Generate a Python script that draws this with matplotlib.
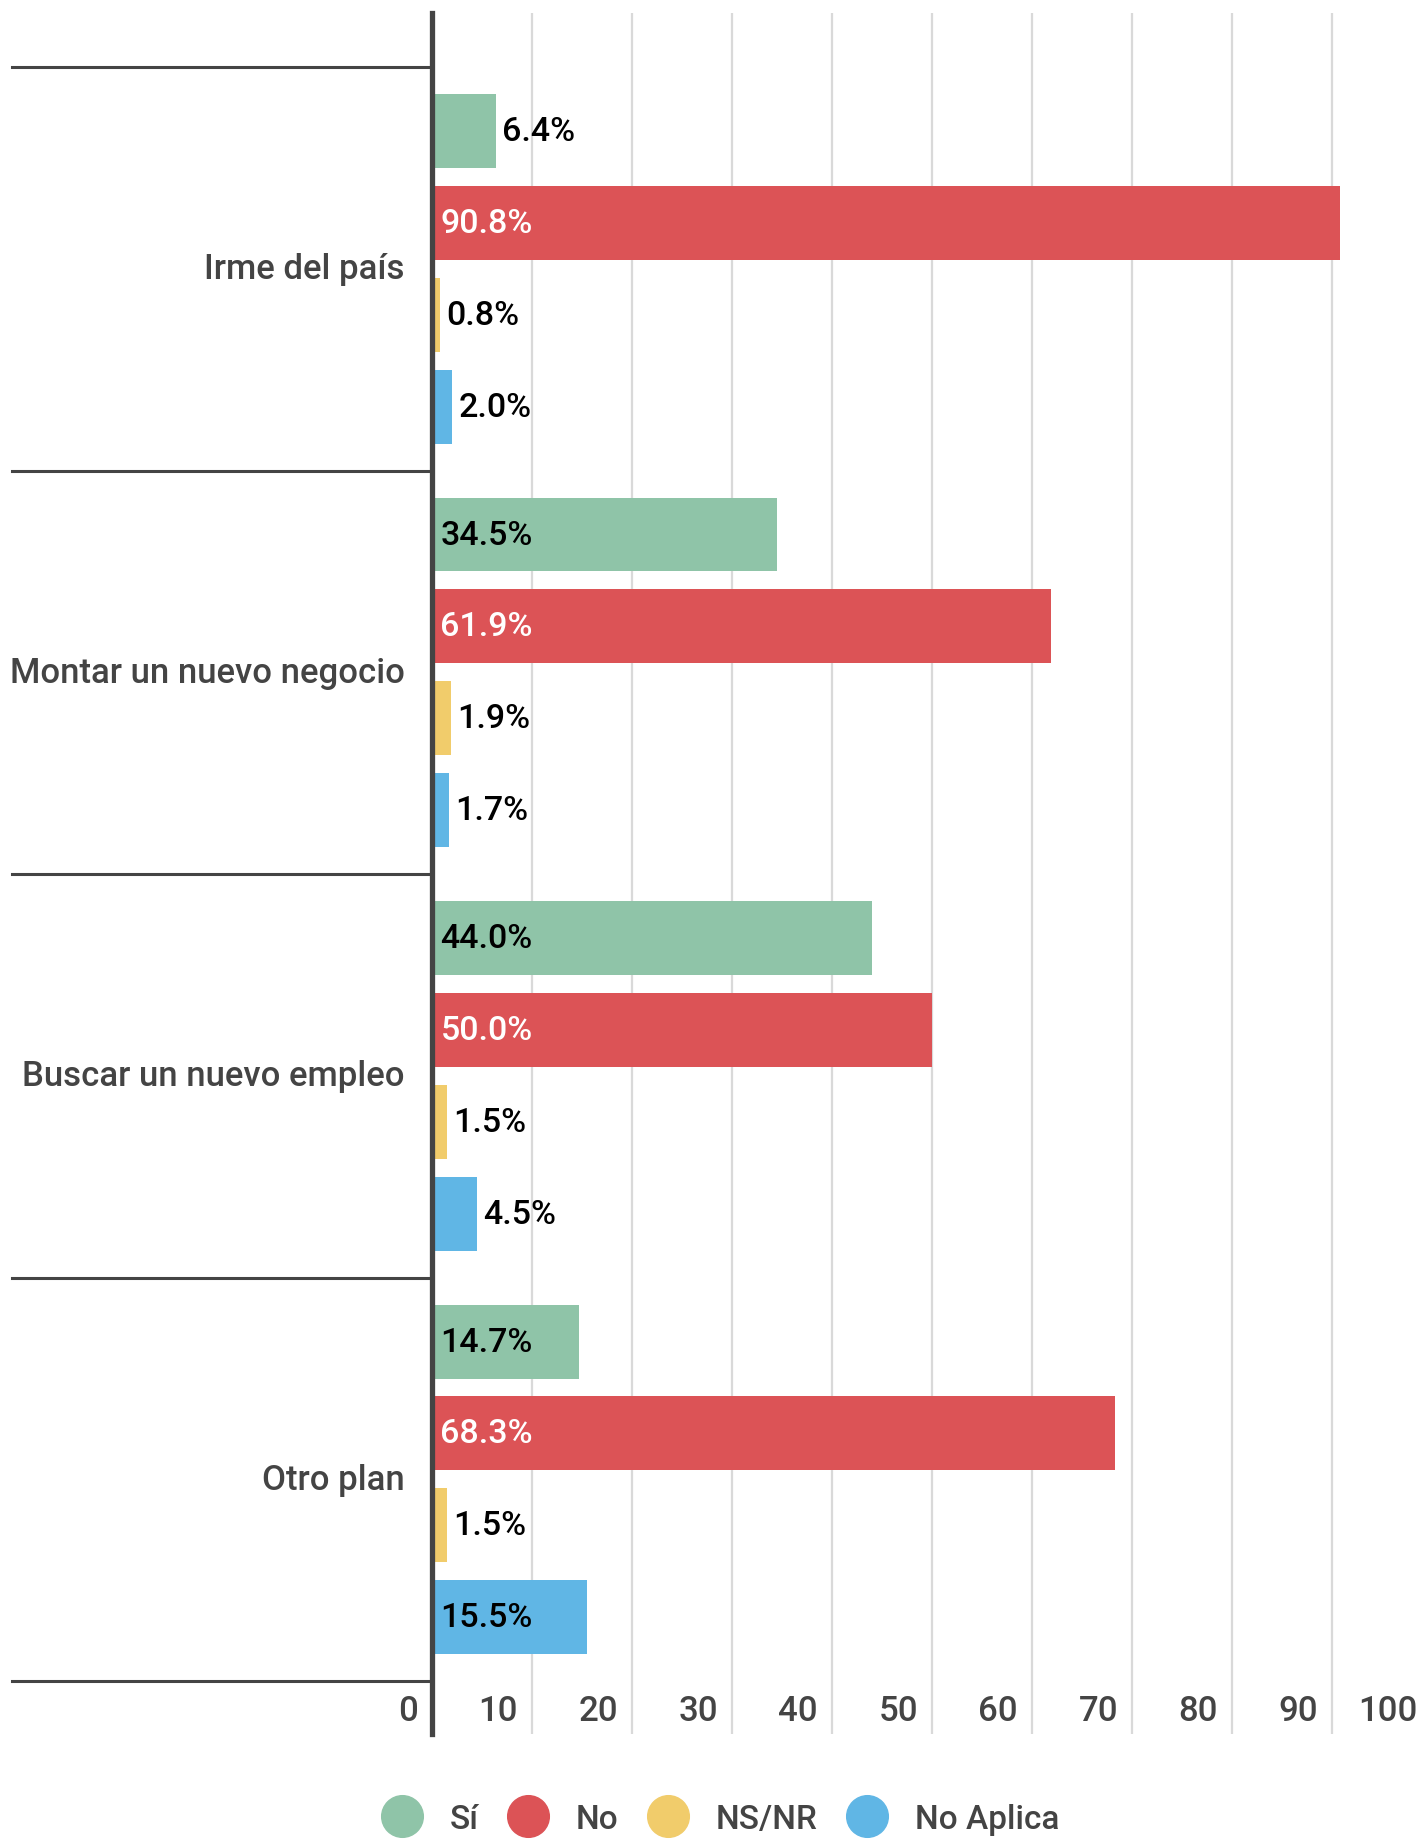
import matplotlib
matplotlib.use("Agg")
import matplotlib.pyplot as plt
import matplotlib.transforms as mtransforms
from matplotlib.lines import Line2D
import numpy as np

plt.rcParams['font.family'] = ['Roboto', 'DejaVu Sans']

# Data
categories = ["Irme del país", "Montar un nuevo negocio", "Buscar un nuevo empleo", "Otro plan"]
series = ["Sí", "No", "NS/NR", "No Aplica"]
si = [6.4, 34.5, 44.0, 14.7]
no = [90.8, 61.9, 50.0, 68.3]
nsnr = [0.8, 1.9, 1.5, 1.5]
no_aplica = [2.0, 1.7, 4.5, 15.5]
colors = ["#8FC4A8", "#DC5356", "#F1CC6B", "#60B6E5"]
xticks = [0, 10, 20, 30, 40, 50, 60, 70, 80, 90, 100]

W, H = 1420, 1840
fig = plt.figure(figsize=(W / 100, H / 100), dpi=100)

# axes: x=0 at 432px, 10 units per 100px, runs past right edge
ax = fig.add_axes([432 / W, 1 - 1735 / H, 1050 / W, 1721 / H])
ax.set_xlim(0, 105)
ax.set_ylim(3.631, -0.634)

values = [si, no, nsnr, no_aplica]
step = 92 / 404
bar_h = 74 / 404
y = np.arange(len(categories))
for k, vals in enumerate(values):
    pos = y + (k - 1.5) * step
    ax.barh(pos, vals, height=bar_h, color=colors[k], zorder=3)
    for p, v in zip(pos, vals):
        txt = f"{v:.1f}%"
        if v > 10:
            col = "white" if k == 1 else "black"
            ax.annotate(txt, (0, p), xytext=(6, 0), textcoords="offset points",
                        ha="left", va="center", fontsize=24.5, color=col,
                        fontweight="medium", zorder=4)
        else:
            ax.annotate(txt, (v, p), xytext=(4.5, 0), textcoords="offset points",
                        ha="left", va="center", fontsize=24.5, color="black",
                        fontweight="medium", zorder=4)

# grid
ax.set_xticks(xticks)
ax.grid(axis="x", color="#d9d9d9", linewidth=1.6, zorder=0)
ax.tick_params(axis="both", length=0, labelbottom=False, labelleft=False)
for s in ["top", "right", "bottom"]:
    ax.spines[s].set_visible(False)
ax.spines["left"].set_color("#444444")
ax.spines["left"].set_linewidth(3.8)
ax.spines["left"].set_zorder(5)

# tick labels, right-aligned just left of each gridline
tick_tr = mtransforms.offset_copy(ax.get_xaxis_transform(), fig=fig, x=-14, y=0, units="dots")
for t in xticks:
    ax.text(t, 23 / 1721, str(t), transform=tick_tr, ha="right", va="center",
            fontsize=25, color="#444444", fontweight="medium", clip_on=False)

# category labels and separators
lab_tr = mtransforms.offset_copy(ax.get_yaxis_transform(), fig=fig, x=-27, y=0, units="dots")
for i, c in enumerate(categories):
    ax.text(0, i, c, transform=lab_tr, ha="right", va="center", fontsize=25,
            color="#444444", fontweight="medium")
sep_tr = mtransforms.blended_transform_factory(fig.transFigure, ax.transData)
for yy in np.arange(len(categories) + 1) - 0.5:
    ax.add_line(Line2D([12 / W, 432 / W], [yy, yy], transform=sep_tr,
                       color="#444444", linewidth=2.2, clip_on=False))

# legend
handles = [Line2D([], [], marker="o", linestyle="", markersize=30,
                  markerfacecolor=c, markeredgecolor=c) for c in colors]
fig.legend(handles, series, loc="center", bbox_to_anchor=(720 / W, 1 - 1820 / H),
           ncol=4, frameon=False, handlelength=1.26, handletextpad=0.81,
           columnspacing=0.84, labelcolor="#444444",
           prop={"size": 24, "weight": "medium"})

fig.savefig("out.png", dpi=100)
